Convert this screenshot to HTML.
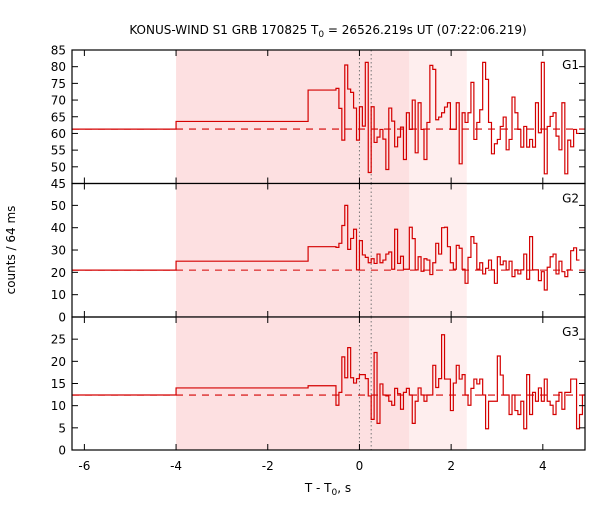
<!DOCTYPE html>
<html><head><meta charset="utf-8"><style>
html,body{margin:0;padding:0;background:#fff;}
svg text{font-family:"DejaVu Sans","Liberation Sans",sans-serif;font-size:12px;fill:#000;}
</style></head><body>
<svg id="chart" width="600" height="500" xmlns="http://www.w3.org/2000/svg">
<text x="328" y="34" text-anchor="middle">KONUS-WIND S1 GRB 170825 T<tspan font-size="9" dy="3">0</tspan><tspan dy="-3"> = 26526.219s UT (07:22:06.219)</tspan></text>
<text transform="translate(15,250) rotate(-90)" text-anchor="middle">counts / 64 ms</text>
<text x="328" y="492" text-anchor="middle">T - T<tspan font-size="9" dy="3">0</tspan><tspan dy="-3">, s</tspan></text>
</svg>
<script>
const xTicks=[-6,-4,-2,0,2,4];
const binStart=-0.512, binWidth=0.064;
const g1Pre=[61.3,63.6,73.0], g2Pre=[21,25,31.5], g3Pre=[12.4,14.0,14.5];
const g1Bg=61.3, g2Bg=21, g3Bg=12.4;
const g1Ticks=[45,50,55,60,65,70,75,80,85];
const g2Ticks=[0,10,20,30,40,50];
const g3Ticks=[0,5,10,15,20,25];
const g1Counts=[73.5,67.5,58,80.5,73.3,72.3,67.6,58,68,62.2,81.3,48.3,68,57.3,58.9,61.2,58.3,49.2,67.6,63.7,56.0,58.9,61.9,52.2,66.2,61.2,70,54.2,69.2,61.2,52.2,63.3,80.4,79.2,64.1,64.9,66.2,67.9,69.2,61.2,61.2,69.2,50.9,66.2,63.3,66.2,75.3,58.2,63.3,67.1,81.3,76.2,63.3,53.9,56.9,58.2,62.1,64.9,55.1,58.2,70.9,66.2,61.2,55.9,62.1,55.9,58.2,55.9,69.2,60.2,81.3,47.9,62.1,65.1,66.2,59.2,55.1,69.2,47.9,58,56,61.2,60];
const g2Counts=[31.2,33,41,50,30.3,35.2,39.3,21.1,34.2,27.8,26.7,24.3,26.1,24,28.2,24.3,25.5,28.2,29.1,21.4,39.3,24,27.2,21.4,21.4,40.2,35.1,21.1,27,20.5,26.1,25.5,19,24.3,33,28.2,40,40.2,31.5,24.3,21.4,32.1,30.8,21.4,15.1,26.7,36,33,21.4,24.3,19.3,21.8,25.5,21.1,15.1,27,23.4,25.1,21.1,25,18.1,21.1,19.3,21.1,28.2,16.9,36,21.1,21.1,16.3,20.3,12.1,22.3,27,28.2,19.3,25,20.3,18.1,21.1,29.7,31,25.5];
const g3Counts=[10.1,13,21,16.3,23.1,16.3,15.1,16.1,17,17,16.1,12.2,6.9,22,6,14.9,12.4,12.2,11,10.1,13.9,12.7,9.2,13,13.9,12.4,6,11,14,12.4,11,12.4,12.4,19.1,14.1,16.1,26,16,16,8.9,15.1,19.1,16,17,12.4,10.1,13.9,16,14.9,16,12.4,4.8,11,11,11,21.2,16.9,12.4,12.4,8,12.4,8.9,8,11,4.8,17,8,13,11,14,11,16,11,10.1,8,11,13,9.2,13,13,16,16,4.8,8,12.4];

const svg=document.getElementById('chart');
const NS='http://www.w3.org/2000/svg';
const X0=72,X1=585,TMIN=-6.27,TMAX=4.92;
const xs=t=>X0+(t-TMIN)/(TMAX-TMIN)*(X1-X0);
function mk(tag,attrs,parent){const e=document.createElementNS(NS,tag);for(const k in attrs)e.setAttribute(k,attrs[k]);(parent||svg).appendChild(e);return e;}

const panels=[
 {name:'g1',top:50,bot:183.5,min:45,max:85,ticks:g1Ticks,pre:g1Pre,bg:g1Bg,counts:g1Counts},
 {name:'g2',top:183.5,bot:317,min:0,max:59.8,ticks:g2Ticks,pre:g2Pre,bg:g2Bg,counts:g2Counts},
 {name:'g3',top:317,bot:450,min:0,max:30,ticks:g3Ticks,pre:g3Pre,bg:g3Bg,counts:g3Counts}
];
panels.forEach((p,i)=>{
 const ys=v=>p.bot-(v-p.min)/(p.max-p.min)*(p.bot-p.top);
 const g=mk('g',{});
 
 
 const s1=mk('rect',{x:xs(-4),y:p.top,width:xs(1.088)-xs(-4),height:p.bot-p.top,fill:'#fde0e1'},g);
 
 
 const s2=mk('rect',{x:xs(1.088),y:p.top,width:xs(2.34)-xs(1.088),height:p.bot-p.top,fill:'#feeeee'},g);
 
 
 [0,0.256].forEach(t=>{const l=mk('line',{x1:xs(t),x2:xs(t),y1:p.top,y2:p.bot,stroke:'#777','stroke-dasharray':'1.5,2.5','stroke-width':1},g);
  
  });
 const bl=mk('line',{x1:X0,x2:X1,y1:ys(p.bg),y2:ys(p.bg),stroke:'#d40000','stroke-dasharray':'7,6','stroke-width':1.1},g);
 
 
 const edges=[TMIN,-4,-1.12,binStart];
 let d='M'+xs(TMIN)+','+ys(p.pre[0]);
 for(let k=0;k<3;k++){d+=' L'+xs(edges[k+1])+','+ys(p.pre[k]);const nv=k<2?p.pre[k+1]:p.counts[0];d+=' L'+xs(edges[k+1])+','+ys(nv);}
 p.counts.forEach((v,j)=>{const t1=Math.min(binStart+(j+1)*binWidth,TMAX);d+=' L'+xs(t1)+','+ys(v);if(j+1<p.counts.length&&t1<TMAX)d+=' L'+xs(t1)+','+ys(p.counts[j+1]);});
 const path=mk('path',{d:d,fill:'none',stroke:'#d40000','stroke-width':1.2},g);
 
 
 const fr=mk('rect',{x:X0,y:p.top,width:X1-X0,height:p.bot-p.top,fill:'none',stroke:'#000','stroke-width':1.2},g);
 
 
 p.ticks.forEach(v=>{const y=ys(v);
  mk('line',{x1:X0,x2:X0+6,y1:y,y2:y,stroke:'#000'},g);
  mk('line',{x1:X1-6,x2:X1,y1:y,y2:y,stroke:'#000'},g);
  const t=mk('text',{x:X0-6,y:y+4.5,'text-anchor':'end'},g);t.textContent=v;
  
  });
 xTicks.forEach(v=>{const x=xs(v);
  mk('line',{x1:x,x2:x,y1:p.top,y2:p.top+6,stroke:'#000'},g);
  mk('line',{x1:x,x2:x,y1:p.bot-6,y2:p.bot,stroke:'#000'},g);});
 const lab=mk('text',{x:579,y:p.top+19,'text-anchor':'end'},g);lab.textContent='G'+(i+1);
 
 
});
xTicks.forEach(v=>{const t=mk('text',{x:xs(v),y:470,'text-anchor':'middle'});t.textContent=v;
 
 });
</script>
</body></html>
